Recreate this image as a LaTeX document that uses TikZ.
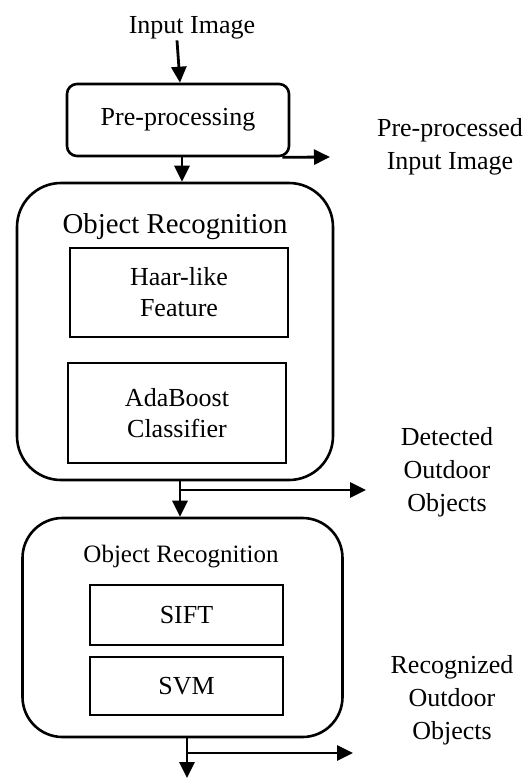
\documentclass[tikz,border=0pt]{standalone}
\usepackage{fontspec}
\setmainfont{Liberation Serif}
\usetikzlibrary{positioning,arrows.meta}
\tikzstyle{block} = [rectangle, draw, line width=1.3pt, text centered, align=center, inner sep=0pt]
\tikzstyle{outer} = [block, rounded corners=22pt]
\tikzstyle{txt} = [align=center, font=\fontsize{13}{16.5}\selectfont]
\tikzstyle{line} = [draw, line width=1.4pt, -{Triangle[length=8pt,width=7.5pt]}]

\begin{document}
\begin{tikzpicture}[x=0.5pt, y=-0.5pt, node distance = 2cm, auto]
	\useasboundingbox (0,0) rectangle (529,778);
	\node[txt] (input) at (192,28) {Input Image};
	\node[block, rounded corners=5pt, minimum width=111pt, minimum height=36pt, txt] (pre) at (178,120) {Pre-processing};
	\node[txt] (preout) at (450,147) {Pre-processed\\Input Image};
	
	% first recognition stage
	\node[outer, minimum width=158pt, minimum height=148.5pt] (detect) at (175,331.5) {};
	\node[font=\fontsize{14.4}{17}\selectfont] (detecttitle) at (175,227) {Object Recognition};
	\node[block, minimum width=109pt, minimum height=44.5pt, txt, font=\fontsize{13}{15.5}\selectfont] (haar) at (179,292.5) {Haar-like\\Feature};
	\node[block, minimum width=109pt, minimum height=50pt, txt, font=\fontsize{13}{15.5}\selectfont] (ada) at (177,413) {AdaBoost\\Classifier};
	\node[txt] (detectout) at (447,472) {Detected\\Outdoor\\Objects};
	
	% second recognition stage
	\node[outer, rounded corners=20pt, minimum width=160pt, minimum height=109.5pt] (recog) at (182.5,627.5) {};
	\node[font=\fontsize{12.5}{14}\selectfont] (recogtitle) at (181,557) {Object Recognition};
	\node[block, minimum width=96.5pt, minimum height=30pt, txt] (sift) at (186.5,615) {SIFT};
	\node[block, minimum width=96.5pt, minimum height=29pt, txt] (svm) at (186.5,686) {SVM};
	\node[txt] (recogout) at (452,700) {Recognized\\Outdoor\\Objects};
	
	\coordinate (preend) at (330,157);
	\coordinate (detectsplit) at (180,490);
	\coordinate (detectend) at (366,490);
	\coordinate (recogsplit) at (187,753);
	\coordinate (recogend) at (353,753);
	\coordinate (finalend) at (187,778);
	
	\path[line] ([xshift=-7.5pt,yshift=3pt]input.south) -- ([xshift=1pt]pre.north);
	\path[line] ([xshift=2pt]pre.south) -- ([xshift=3.5pt]detect.north);
	\path[line] ([xshift=-4pt]pre.south east) -- (preend);
	\path[line] ([xshift=2.5pt]detect.south) -- ([xshift=-1.25pt]recog.north);
	\path[line] (detectsplit) -- (detectend);
	\path[line] ([xshift=2.25pt]recog.south) -- (finalend);
	\path[line] (recogsplit) -- (recogend);
\end{tikzpicture}
\end{document}
